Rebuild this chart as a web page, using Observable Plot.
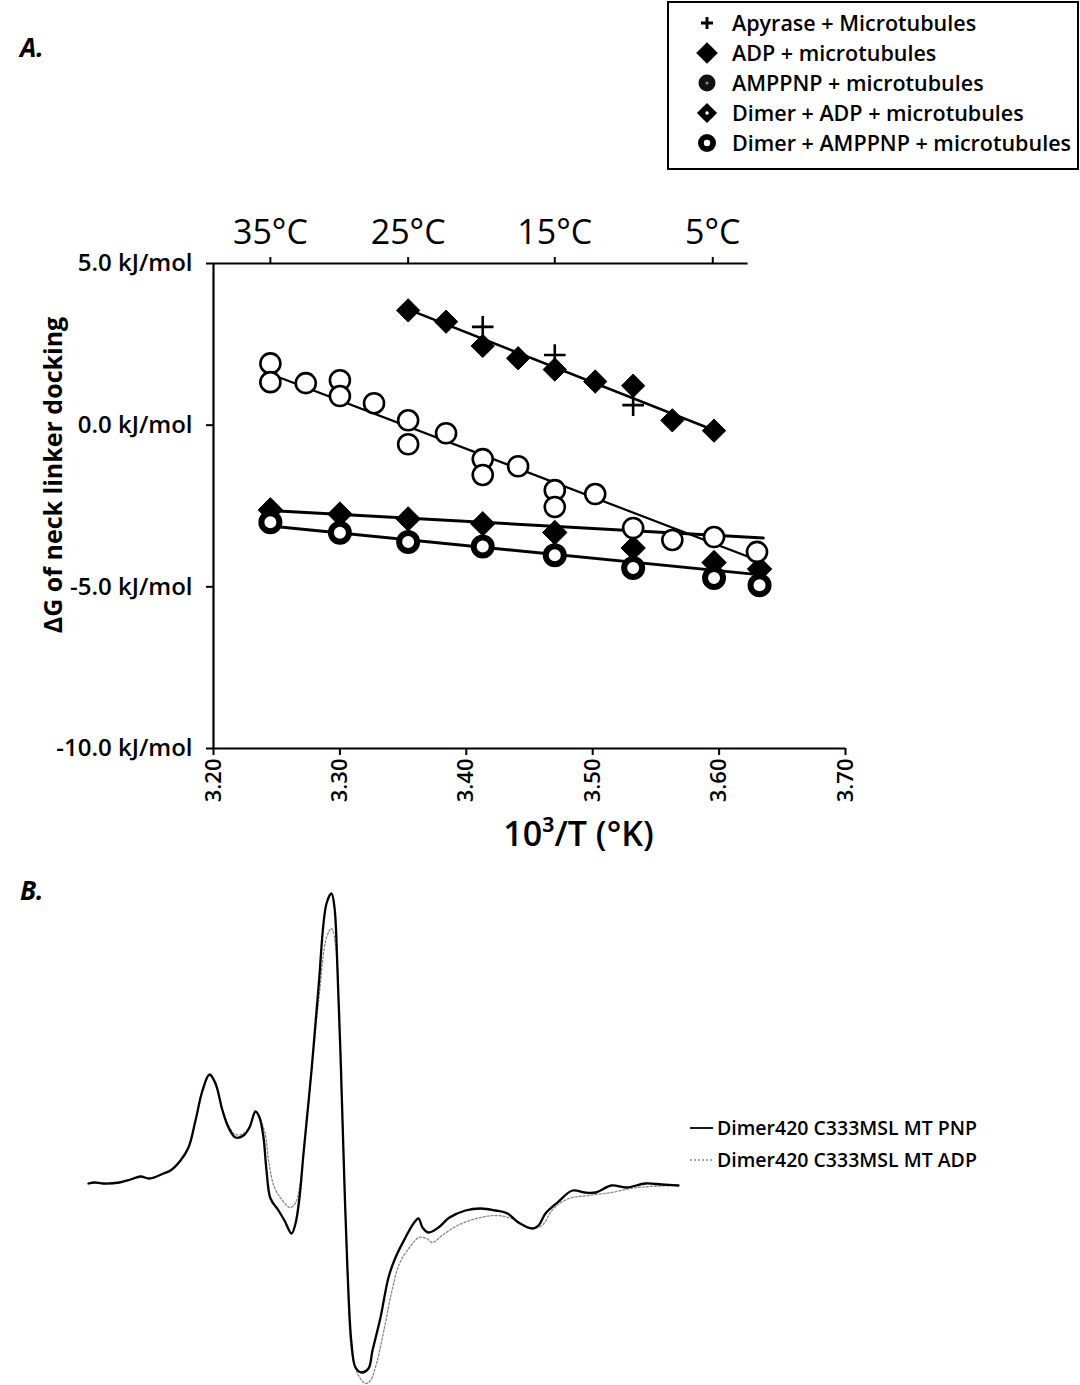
<!DOCTYPE html>
<html><head><meta charset="utf-8">
<script src="https://cdn.jsdelivr.net/npm/d3@7"></script>
<script src="https://cdn.jsdelivr.net/npm/@observablehq/plot@0.6"></script>
<style>
body{margin:0;background:#fff;}
#root{position:relative;width:1080px;height:1385px;overflow:hidden;font-family:"Open Sans",sans-serif;color:#000;background:#fff;}
.abs{position:absolute;}
.panel{font-weight:bold;font-style:italic;font-size:26px;}
</style></head><body><div id="root"></div>
<script>
// ---------- Panel A data ----------
const legendLabels = ["Apyrase + Microtubules","ADP + microtubules","AMPPNP + microtubules","Dimer + ADP + microtubules","Dimer + AMPPNP + microtubules"];
const yTicks = [5, 0, -5, -10];
const xTicks = [3.2, 3.3, 3.4, 3.5, 3.6, 3.7];
const tempTickX = [3.245, 3.354, 3.470, 3.595];
const tempLabels = ["35°C", "25°C", "15°C", "5°C"];
const topAxisSpan = [3.2, 3.623];

const apyX = [3.413, 3.470, 3.532];
const apyY = [3.04, 2.17, 0.62];

const adpX = [3.354, 3.384, 3.413, 3.441, 3.470, 3.502, 3.532, 3.563, 3.596];
const adpY = [3.55, 3.20, 2.45, 2.07, 1.72, 1.35, 1.22, 0.15, -0.17];

const pnpX = [3.245, 3.245, 3.273, 3.300, 3.300, 3.327, 3.354, 3.354, 3.384, 3.413, 3.413, 3.441, 3.470, 3.470, 3.502, 3.532, 3.563, 3.596, 3.630];
const pnpY = [1.91, 1.33, 1.30, 1.39, 0.90, 0.68, 0.15, -0.59, -0.25, -1.05, -1.54, -1.27, -2.01, -2.53, -2.13, -3.18, -3.55, -3.46, -3.92];

const dAdpX = [3.245, 3.300, 3.354, 3.413, 3.470, 3.532, 3.596, 3.632];
const dAdpY = [-2.62, -2.75, -2.90, -3.05, -3.32, -3.80, -4.25, -4.45];

const dPnpX = [3.245, 3.300, 3.354, 3.413, 3.470, 3.532, 3.596, 3.632];
const dPnpY = [-3.00, -3.33, -3.61, -3.75, -4.02, -4.42, -4.73, -4.95];

// fitted lines (end points)
const fitName = ["adp", "adp", "pnp", "pnp", "dadp", "dadp", "dpnp", "dpnp"];
const fitX = [3.354, 3.600, 3.246, 3.634, 3.237, 3.635, 3.237, 3.633];
const fitY = [3.58, -0.22, 1.57, -4.23, -2.62, -3.49, -3.09, -4.63];
const fitW = {adp: 2.5, pnp: 2.2, dadp: 3, dpnp: 3};

// ---------- Panel B data (arbitrary field units, amplitude) ----------
const pnpFieldX = [0,6,15,31,42,52,61,75,82,92,100,107,114,121,127,134,140,147,155,161,167,171,175,178,182,190,196,203,207,211,215,223,230,238,243,246,249,252,255,259,263,267,273,280,284,292,300,307,317,325,330,334,340,350,361,377,392,407,419,430,444,450,457,469,484,496,507,523,538,557,573,590];
const pnpAmp = [2,3,2,3,6,9,7,12,15,25,38,65,95,111,102,75,58,48,50,58,74,68,48,15,-13,-25,-35,-48,-38,-12,32,115,198,282,292,278,215,132,32,-85,-158,-182,-187,-183,-165,-132,-92,-72,-52,-38,-33,-42,-47,-42,-32,-25,-23,-25,-28,-37,-43,-40,-28,-17,-5,-7,-7,0,-2,2,1,0];
const adpFieldX = [0,6,15,31,42,52,61,75,82,92,100,107,114,121,127,134,140,147,155,161,167,171,176.6,180.5,186,194,201.6,206.6,210.5,215,223,230.5,238,243,248,250.5,255,259,263,269,277,282,288,296,303.5,311,321,330.5,338,344,353.5,369,388,407,423,442,453.5,465,480.5,500,523,542,561,590];
const adpAmp = [2,3,2,3,6,9,7,12,15,25,38,65,95,110,101,75,60,51,52,59,74,68,52,22,-2,-15,-22,-18,-5,32,115,188,248,257,232,165,32,-85,-165,-188,-198,-195,-178,-142,-105,-78,-62,-52,-53,-57,-50,-40,-33,-30,-33,-43,-40,-23,-13,-10,-7,-3,-1,0];
const bLegend = ["Dimer420 C333MSL MT PNP", "Dimer420 C333MSL MT ADP"];

// ---------- build ----------
const FONT = "'Open Sans', sans-serif";
const root = document.getElementById("root");
const rows = (xs, ys) => xs.map((x, i) => ({x, y: ys[i]}));
const fits = fitX.map((x, i) => ({x, y: fitY[i], s: fitName[i]}));

const chartA = Plot.plot({
  width: 1080, height: 680,
  marginLeft: 213, marginRight: 235, marginTop: 83, marginBottom: 112,
  x: {domain: [3.2, 3.7]},
  y: {domain: [-10, 5]},
  style: {fontFamily: FONT, background: "transparent", color: "black", overflow: "visible"},
  marks: [
    Plot.axisY(yTicks, {tickSize: 7, tickPadding: 14, strokeWidth: 2, tickFormat: d => d.toFixed(1) + " kJ/mol", fontSize: 24, fontWeight: 600, label: null}),
    Plot.axisX(xTicks, {anchor: "bottom", tickSize: 7, tickPadding: 3, strokeWidth: 2, tickRotate: -90, tickFormat: d => d.toFixed(2), fontSize: 22, fontWeight: 600, label: null}),
    Plot.axisX(tempTickX, {anchor: "top", tickSize: 7, tickPadding: 13, strokeWidth: 2, tickFormat: (d, i) => tempLabels[i], fontSize: 34, label: null}),
    Plot.ruleX([3.2], {strokeWidth: 2.2}),
    Plot.ruleY([-10], {strokeWidth: 2.2}),
    Plot.ruleY([5], {x1: topAxisSpan[0], x2: topAxisSpan[1], strokeWidth: 2.2}),
    Plot.text(["ΔG of neck linker docking"], {frameAnchor: "left", text: d => d, rotate: -90, textAnchor: "middle", lineAnchor: "middle", dx: -160, dy: -31, fontSize: 25, fontWeight: "bold"}),
    Plot.text(["10³/T (°K)"], {frameAnchor: "bottom", text: d => d, dx: 49, dy: 97, fontSize: 34, fontWeight: 600}),
    ...["adp", "pnp", "dadp", "dpnp"].map(s => Plot.line(fits.filter(d => d.s === s), {x: "x", y: "y", stroke: "black", strokeWidth: fitW[s]})),
    Plot.dot(rows(dAdpX, dAdpY), {x: "x", y: "y", symbol: "diamond2", r: 11, fill: "black", stroke: "black", strokeWidth: 1}),
    Plot.dot(rows(dPnpX, dPnpY), {x: "x", y: "y", r: 9, fill: "white", stroke: "black", strokeWidth: 6}),
    Plot.dot(rows(pnpX, pnpY), {x: "x", y: "y", r: 10, fill: "white", stroke: "black", strokeWidth: 2.6}),
    Plot.dot(rows(adpX, adpY), {x: "x", y: "y", symbol: "diamond2", r: 10.5, fill: "black", stroke: "black", strokeWidth: 1}),
    Plot.dot(rows(apyX, apyY), {x: "x", y: "y", symbol: "plus", r: 7, stroke: "black", strokeWidth: 2.6})
  ]
});
chartA.style.position = "absolute"; chartA.style.left = "0px"; chartA.style.top = "180px";
root.appendChild(chartA);

// Legend A
const leg = d3.select(root).append("svg").attr("class", "abs").attr("width", 1080).attr("height", 180)
  .style("left", "0px").style("top", "0px");
leg.append("rect").attr("x", 668).attr("y", 2).attr("width", 410).attr("height", 167)
  .attr("fill", "white").attr("stroke", "black").attr("stroke-width", 2);
legendLabels.forEach((t, i) => {
  const cy = 23 + i * 30, cx = 707;
  const g = leg.append("g").attr("transform", `translate(${cx},${cy})`);
  if (i === 0) {
    g.append("path").attr("d", d3.symbol(d3.symbolPlus, 49)()).attr("fill", "none").attr("stroke", "black").attr("stroke-width", 3);
  } else if (i === 1) {
    g.append("path").attr("d", d3.symbol(d3.symbolDiamond2, 300)()).attr("fill", "black");
  } else if (i === 2) {
    g.append("circle").attr("r", 8.5).attr("fill", "#111");
    g.append("circle").attr("r", 1.6).attr("fill", "#888");
  } else if (i === 3) {
    g.append("path").attr("d", d3.symbol(d3.symbolDiamond2, 260)()).attr("fill", "black");
    g.append("circle").attr("r", 1.8).attr("fill", "white");
  } else {
    g.append("circle").attr("r", 9).attr("fill", "black");
    g.append("circle").attr("r", 3.2).attr("fill", "white");
  }
  leg.append("text").attr("x", 732).attr("y", cy).attr("dy", "0.36em").attr("font-family", FONT)
    .attr("font-size", 21.5).attr("font-weight", 600).text(t);
});

// Panel labels
const la = document.createElement("div"); la.className = "abs panel"; la.style.left = "20px"; la.style.top = "29px"; la.textContent = "A."; root.appendChild(la);
const lb = document.createElement("div"); lb.className = "abs panel"; lb.style.left = "20px"; lb.style.top = "872px"; lb.textContent = "B."; root.appendChild(lb);

// Panel B
const chartB = Plot.plot({
  width: 1080, height: 515,
  marginLeft: 88, marginRight: 402, marginTop: 15, marginBottom: 0,
  x: {domain: [0, 590], axis: null},
  y: {domain: [-200, 300], axis: null},
  style: {fontFamily: FONT, background: "transparent", overflow: "visible"},
  marks: [
    Plot.line(rows(adpFieldX, adpAmp), {x: "x", y: "y", stroke: "#888", strokeWidth: 1.3, strokeDasharray: "2,2", curve: "catmull-rom"}),
    Plot.line(rows(pnpFieldX, pnpAmp), {x: "x", y: "y", stroke: "black", strokeWidth: 2.3, curve: "catmull-rom"})
  ]
});
chartB.style.position = "absolute"; chartB.style.left = "0px"; chartB.style.top = "870px";
root.appendChild(chartB);

// Legend B
const legB = d3.select(root).append("svg").attr("class", "abs").attr("width", 340).attr("height", 80)
  .style("left", "680px").style("top", "1105px");
bLegend.forEach((t, i) => {
  const y = 23 + i * 32;
  legB.append("line").attr("x1", 10).attr("x2", 33).attr("y1", y).attr("y2", y)
    .attr("stroke", i === 0 ? "black" : "#888").attr("stroke-width", i === 0 ? 1.8 : 1.3)
    .attr("stroke-dasharray", i === 0 ? null : "2,2");
  legB.append("text").attr("x", 37).attr("y", y).attr("dy", "0.36em").attr("font-family", FONT)
    .attr("font-size", 19.5).attr("font-weight", 600).text(t);
});
</script>
</body></html>
